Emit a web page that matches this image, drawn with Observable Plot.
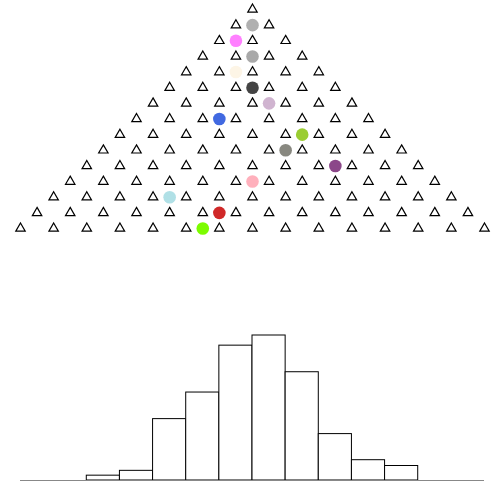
<!DOCTYPE html>
<html>
<head>
<meta charset="utf-8">
<script src="https://cdn.jsdelivr.net/npm/d3@7"></script>
<script src="https://cdn.jsdelivr.net/npm/@observablehq/plot@0.6"></script>
<style>
  body { margin: 0; background: #fff; }
  #chart svg { display: block; }
</style>
</head>
<body>
<div id="chart"></div>
<script>
// Galton board: 15 rows of pegs (row r has r+1 pegs)
const pegRows = 15;

// Balls currently falling: row and horizontal position (in peg units, 0 = centre)
const ballRows = [1, 2, 3, 4, 5, 6, 7, 8, 9, 10, 11, 12, 13, 14];
const ballX = [0, -0.5, 0, -0.5, 0, 0.5, -1, 1.5, 1, 2.5, 0, -2.5, -1, -1.5];
const ballColors = ["#b0b0b0", "#ff80ff", "#a9a9a9", "#fdf5e6", "#444444", "#d0b4d0",
  "#4169e1", "#9acd32", "#888880", "#8b4789", "#ffb0bc", "#b0e0e6", "#d02828", "#7cfc00"];

// Histogram of balls that reached the bottom (bins of width 1 from -7 to 7)
const binStart = [-7, -6, -5, -4, -3, -2, -1, 0, 1, 2, 3, 4, 5, 6];
const binCount = [0, 0, 1, 2, 12.7, 18.2, 27.9, 30, 22.4, 9.6, 4.2, 3, 0, 0];

const pegs = [];
for (let r = 0; r < pegRows; r++) {
  for (let k = 0; k <= r; k++) pegs.push({row: r, x: k - r / 2});
}
const balls = ballRows.map((row, i) => ({row, x: ballX[i], color: ballColors[i]}));
const bins = binStart.map((x1, i) => ({x1, x2: x1 + 1, count: binCount[i]}));

const board = Plot.plot({
  width: 504,
  height: 240,
  marginLeft: 20,
  marginRight: 20,
  marginTop: 9,
  marginBottom: 12,
  x: {domain: [-7, 7], axis: null},
  y: {domain: [0, 14], reverse: true, axis: null},
  marks: [
    Plot.dot(pegs, {x: "x", y: "row", symbol: "triangle", r: 3.5, stroke: "black", strokeWidth: 1.2}),
    Plot.dot(balls, {x: "x", y: "row", r: 6.3, fill: "color"})
  ]
});

const hist = Plot.plot({
  width: 504,
  height: 264,
  marginLeft: 20,
  marginRight: 20,
  marginTop: 95,
  marginBottom: 24,
  x: {domain: [-7, 7], axis: null},
  y: {domain: [0, 30], axis: null},
  marks: [
    Plot.rectY(bins, {x1: "x1", x2: "x2", y: "count", fill: "white", stroke: "black", insetLeft: 0, insetRight: 0}),
    Plot.ruleY([0], {stroke: "#888"})
  ]
});

document.getElementById("chart").append(board, hist);
</script>
</body>
</html>
